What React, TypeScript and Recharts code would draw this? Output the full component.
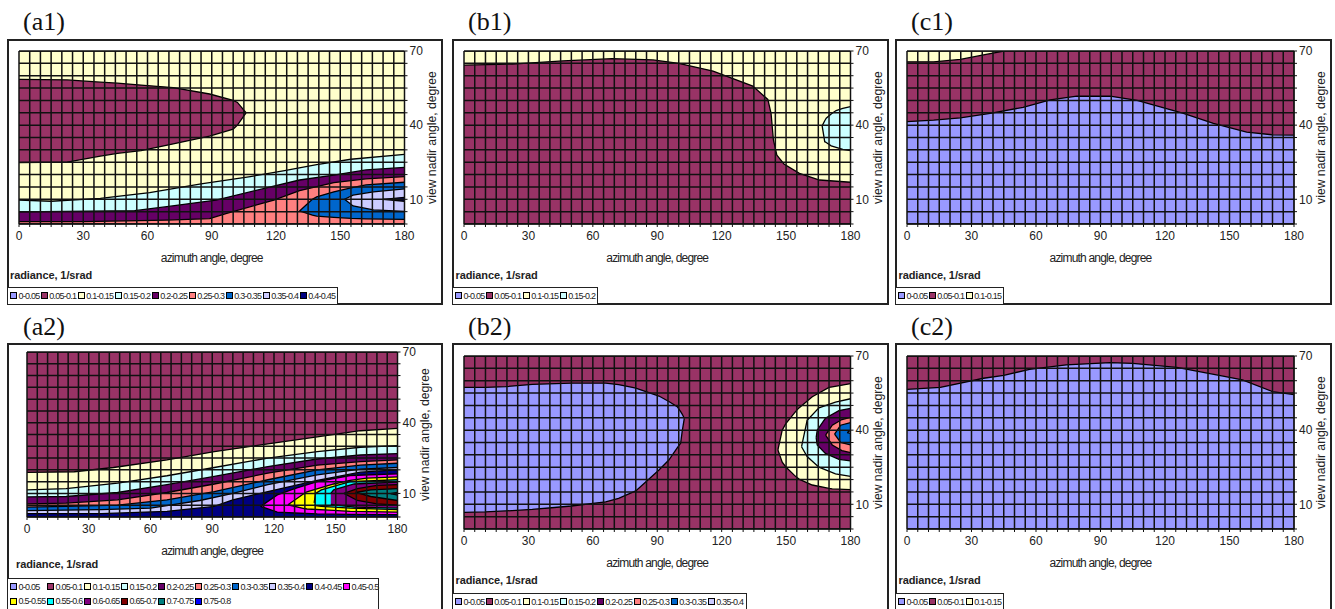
import React from 'react';
import { AreaChart, Area, XAxis, YAxis, CartesianGrid } from 'recharts';

type Row = number[];

const bandLabels = ['0-0.05','0.05-0.1','0.1-0.15','0.15-0.2','0.2-0.25','0.25-0.3','0.3-0.35','0.35-0.4','0.4-0.45','0.45-0.5','0.5-0.55','0.55-0.6','0.6-0.65','0.65-0.7','0.7-0.75','0.75-0.8'];
const bandColors = ['#9999FF','#993366','#FFFFCC','#CCFFFF','#660066','#FF8080','#0066CC','#CCCCFF','#000080','#FF00FF','#FFFF00','#00FFFF','#800080','#800000','#008080','#0000FF'];

const azimuthTicks = [0,5,10,15,20,25,30,35,40,45,50,55,60,65,70,75,80,85,90,95,100,105,110,115,120,125,130,135,140,145,150,155,160,165,170,175,180];
const nadirTicks = [0,5,10,15,20,25,30,35,40,45,50,55,60,65,70];
const azimuthLabels = [0,30,60,90,120,150,180];
const nadirLabels = [10,40,70];

const whole: Row[] = [[0,0,70],[180,0,70]];

// rows: [azimuth, lower nadir, upper nadir]
const a1Maroon: Row[] = [[0,24.8,58.5],[22.5,25,58.3],[38,27.5,57.4],[46,28.6,57],[57,29.7,56.2],[72,32.4,55.2],[89,35.6,52.6],[100,38.4,50],[102,40,49.2],[106,45,45]];
const a1Cyan: Row[] = [[0,0,9.7],[15,0,9.2],[38,0,10.4],[61,0,12.7],[85,0,16.2],[108,0,19.2],[124,0,21.6],[139,0,24],[155,0,26.2],[180,0,28.2]];
const a1Purple: Row[] = [[0,0,4.9],[54,0,5.4],[69,0,7],[92,0,9.7],[116,0,14.7],[131,0,17.8],[147,0,19.8],[162,0,21.9],[180,0,22.9]];
const a1Salmon: Row[] = [[0,0,1],[30,0,1],[69,0,1.6],[89,0,2.2],[97,0,4.3],[119,0,9.7],[131,0,13.5],[147,0,16.7],[162,0,18.3],[180,0,19.2]];
const a1Blue: Row[] = [[131,5.3,5.3],[137,3.6,10],[139,3.2,11],[147,2.7,13],[155,2.3,14.6],[162,2.1,15.8],[180,1.9,16.9]];
const a1Lav: Row[] = [[152,10,10],[156,7.3,11.7],[165.5,5.7,13],[180,5.1,14.2]];
const a1Navy: Row[] = [[170,10,10],[180,9.2,10.8]];

const a2Yellow: Row[] = [[0,0,18.9],[23,0,19.2],[42,0,21],[68,0,24.2],[91,0,27.7],[117,0,31],[141,0,34],[162,0,36.6],[180,0,37.6]];
const a2PaleCyan: Row[] = [[0,0,11.5],[19,0,12],[44,0,14.4],[68,0,17.5],[91,0,21],[117,0,25],[141,0,27.7],[162,0,29.6],[180,0,30.3]];
const a2Purple: Row[] = [[0,0,8.5],[19,0,8.7],[44,0,10.4],[68,0,13.7],[91,0,17.2],[117,0,21.4],[141,0,24.6],[162,0,26.3],[180,0,26.9]];
const a2Salmon: Row[] = [[0,0,5.6],[19,0,5.9],[44,0,7.3],[68,0,10.4],[91,0,14],[117,0,18.6],[141,0,22],[162,0,23.5],[180,0,24.2]];
const a2Blue: Row[] = [[0,0,4.2],[19,0,4.5],[44,0,5],[68,0,7.3],[91,0,10.8],[117,0,15.8],[141,0,20],[162,0,22],[180,0,22.8]];
const a2Lav: Row[] = [[0,0,2.7],[36,0,3.1],[60,0,3.8],[84,0,7],[100,0,10],[117,0,13.7],[141,0,17.9],[162,0,20.3],[180,0,21]];
const a2Navy: Row[] = [[0,0,1.4],[36,0,1.4],[68,0,2.4],[91,0,4.5],[100,0,7.3],[117,0,10.8],[141,0,15.5],[162,0,19],[180,0,20]];
const a2Magenta: Row[] = [[113.5,4.5,4.5],[121.6,2.1,9.4],[130,1.7,12],[141,1.3,15],[157,1.1,17.6],[180,1,18.3]];
const a2Gold: Row[] = [[126.8,5.2,5.2],[134.6,3.6,10],[136,3.4,10.7],[149,2.8,14],[157,2.4,15.5],[165,2.3,16.5],[180,2.1,17]];
const a2Aqua: Row[] = [[139.5,5,6],[140.2,4.8,10],[143,4.5,11.5],[157,3.8,15],[180,3.1,15.8]];
const a2Violet: Row[] = [[147.6,5.4,10],[149,5.2,11.5],[159,4.2,14],[180,3.8,14.8]];
const a2DarkRed: Row[] = [[154,10,10],[160.5,7,12],[170,5.6,13.4],[180,5,13.7]];
const a2Teal: Row[] = [[159.7,10.4,10.4],[167,8.7,11.5],[180,7,12]];
const a2Pure: Row[] = [[176.7,9.9,9.9],[180,9.3,10.4]];

const b1Maroon: Row[] = [[0,0,64.3],[22.5,0,64.7],[46,0,66],[69,0,66.9],[88,0,66.4],[100,0,65],[116,0,61.9],[134.5,0,55.8],[141.5,0,50.4],[143,0,44.8],[144.1,0,34],[145.7,0,27.9],[149,0,24.3],[156.2,0,20.5],[165.6,0,17.8],[180,0,16.9]];
const b1Cyan: Row[] = [[166.8,39.7,39.7],[168,33.3,41.8],[168.7,33,42.8],[171,31.6,44.5],[173.3,31,45.9],[176.4,30.2,46.8],[180,29.7,47.5]];

const b2Lav: Row[] = [[0,6.7,57.3],[10,6.9,57.3],[19.4,7.3,57.6],[31.8,7.9,58.5],[50,9.3,59],[66,11,59],[72,12.4,58.4],[78.4,14.8,57.3],[80,15.4,57],[90.8,23.9,53.8],[95.4,27.9,51.6],[99.3,32.8,49.5],[100.9,34.7,47.5],[101.6,39.4,46.5],[102.6,44.8,44.8]];
const b2Cream: Row[] = [[146.2,32,32],[148.2,27,40],[149.8,25.2,42.5],[154.4,21.3,47.5],[156,20.2,49],[162.2,17.8,53.5],[170,16.4,57.3],[171.5,16.2,57.5],[180,15.9,58.8]];
const b2Cyan: Row[] = [[157.2,33.3,33.3],[159.8,29.3,44],[165.3,25,49],[173,22.3,51.3],[180,21.3,52.7]];
const b2Purple: Row[] = [[164,37,37],[164.5,34,40],[168.3,30.6,44.8],[174.6,28.2,47.9],[180,27.6,48.8]];
const b2Salmon: Row[] = [[168.4,38,38],[171.5,34,42],[176,31.7,44.3],[180,30.9,45.2]];
const b2Blue: Row[] = [[172.6,38.4,38.4],[175.4,35,42],[180,34,43]];
const b2Lilac: Row[] = [[178.5,39,39],[180,38.7,40]];

const c1Cream: Row[] = [[0,65.6,70],[12.4,65.6,70],[24.8,66.6,70],[35.6,68.4,70],[45,70,70]];
const c1Lav: Row[] = [[0,0,41.4],[12.4,0,42],[24.8,0,42.9],[38.7,0,44.8],[54,0,47.2],[66.6,0,50.2],[79,0,51.7],[94.5,0,51.7],[107,0,50],[128.6,0,44.8],[142.5,0,40.7],[158,0,37.2],[170,0,36.1],[180,0,36]];

const c2Lav: Row[] = [[0,0,56.5],[15.5,0,57.3],[35.6,0,61],[45,0,62.2],[57,0,64.6],[74,0,66.4],[94.5,0,67.3],[105,0,67],[125.5,0,65.4],[147,0,61.9],[156,0,60.3],[170,0,55.6],[180,0,54.4]];

type Layer = { rows: Row[]; band: number };
type PanelDef = {
  title: string;
  frame: [number, number, number, number];
  plot: [number, number, number, number];
  titlePos: [number, number];
  unitPos: [number, number];
  legend: { box: [number, number, number, number]; bands: number; perRow: number; firstNarrow: boolean };
  layers: Layer[];
};

const panels: PanelDef[] = [
  { title: '(a1)', frame: [7, 39, 436, 266], plot: [19, 51, 385.5, 173], titlePos: [23, 7], unitPos: [10, 275],
    legend: { box: [7, 287, 331, 18], bands: 9, perRow: 9, firstNarrow: true },
    layers: [{ rows: whole, band: 2 }, { rows: a1Maroon, band: 1 }, { rows: a1Cyan, band: 3 }, { rows: a1Purple, band: 4 }, { rows: a1Salmon, band: 5 }, { rows: a1Blue, band: 6 }, { rows: a1Lav, band: 7 }, { rows: a1Navy, band: 8 }] },
  { title: '(b1)', frame: [452, 39, 437, 266], plot: [463.5, 51, 386.5, 173], titlePos: [468, 7], unitPos: [455.5, 275],
    legend: { box: [452, 287, 146, 18], bands: 4, perRow: 4, firstNarrow: true },
    layers: [{ rows: whole, band: 2 }, { rows: b1Maroon, band: 1 }, { rows: b1Cyan, band: 3 }] },
  { title: '(c1)', frame: [895, 39, 437, 266], plot: [907, 51, 387, 173], titlePos: [911, 7], unitPos: [898.5, 275],
    legend: { box: [895, 287, 109, 18], bands: 3, perRow: 3, firstNarrow: true },
    layers: [{ rows: whole, band: 1 }, { rows: c1Cream, band: 2 }, { rows: c1Lav, band: 0 }] },
  { title: '(a2)', frame: [7, 343, 436, 270], plot: [26.5, 352, 370.5, 165], titlePos: [23, 312], unitPos: [16, 564],
    legend: { box: [7, 578, 372, 35], bands: 16, perRow: 10, firstNarrow: false },
    layers: [{ rows: whole, band: 1 }, { rows: a2Yellow, band: 2 }, { rows: a2PaleCyan, band: 3 }, { rows: a2Purple, band: 4 }, { rows: a2Salmon, band: 5 }, { rows: a2Blue, band: 6 }, { rows: a2Lav, band: 7 }, { rows: a2Navy, band: 8 }, { rows: a2Magenta, band: 9 }, { rows: a2Gold, band: 10 }, { rows: a2Aqua, band: 11 }, { rows: a2Violet, band: 12 }, { rows: a2DarkRed, band: 13 }, { rows: a2Teal, band: 14 }, { rows: a2Pure, band: 15 }] },
  { title: '(b2)', frame: [452, 343, 437, 270], plot: [463.5, 356, 386.5, 173], titlePos: [468, 312], unitPos: [455.5, 580],
    legend: { box: [452, 593, 295, 20], bands: 8, perRow: 8, firstNarrow: true },
    layers: [{ rows: whole, band: 1 }, { rows: b2Lav, band: 0 }, { rows: b2Cream, band: 2 }, { rows: b2Cyan, band: 3 }, { rows: b2Purple, band: 4 }, { rows: b2Salmon, band: 5 }, { rows: b2Blue, band: 6 }, { rows: b2Lilac, band: 7 }] },
  { title: '(c2)', frame: [895, 343, 437, 270], plot: [907, 356, 387, 173], titlePos: [911, 312], unitPos: [898.5, 580],
    legend: { box: [895, 593, 109, 20], bands: 3, perRow: 3, firstNarrow: true },
    layers: [{ rows: whole, band: 1 }, { rows: c2Lav, band: 0 }] },
];

const sans = '"Liberation Sans", Arial, sans-serif';
const serif = '"Liberation Serif", "Times New Roman", serif';

function LegendBox({ def }: { def: PanelDef['legend'] }) {
  const [x, y, w, h] = def.box;
  const items = bandLabels.slice(0, def.bands);
  return (
    <div style={{ position: 'absolute', left: x, top: y, width: w, height: h, boxSizing: 'border-box', border: '1.5px solid #222', background: '#fff' }}>
      {items.map((label, i) => {
        const col = i % def.perRow;
        const row = Math.floor(i / def.perRow);
        const left = def.firstNarrow ? (i === 0 ? 2 : 32.7 + 37 * (i - 1)) : 2 + 37 * col;
        return (
          <div key={label} style={{ position: 'absolute', left, top: 2 + row * 14.7, height: 11, display: 'flex', alignItems: 'center', whiteSpace: 'nowrap' }}>
            <span style={{ width: 5, height: 5, border: '1px solid #000', background: bandColors[i], display: 'inline-block', marginRight: 1.5, flex: 'none' }} />
            <span style={{ font: `9px ${sans}`, letterSpacing: -0.75, color: '#222' }}>{label}</span>
          </div>
        );
      })}
    </div>
  );
}

function Panel({ def }: { def: PanelDef }) {
  const [fx, fy, fw, fh] = def.frame;
  const [px, py, pw, ph] = def.plot;
  const padL = 12, padT = 12, yW = 48, xH = 44;
  return (
    <>
      <div style={{ position: 'absolute', left: def.titlePos[0], top: def.titlePos[1], font: `26px ${serif}`, color: '#111', lineHeight: '30px' }}>{def.title}</div>
      <div style={{ position: 'absolute', left: fx, top: fy, width: fw, height: fh, boxSizing: 'border-box', border: '2px solid #222', background: '#fff' }} />
      <div style={{ position: 'absolute', left: px - padL, top: py - padT }}>
        <AreaChart width={pw + padL + yW} height={ph + padT + xH} margin={{ left: padL, top: padT, right: 0, bottom: 0 }}>
          <XAxis dataKey="az" type="number" domain={[0, 180]} ticks={azimuthTicks} interval={0} height={xH} tickSize={3} tickMargin={4}
            allowDataOverflow stroke="#111" tick={{ fontSize: 12, fontFamily: sans, fill: '#222' }}
            tickFormatter={(v: number) => (azimuthLabels.includes(v) ? String(v) : '')}
            label={{ value: 'azimuth angle, degree', position: 'insideBottom', offset: 6, style: { fontSize: 12, fontFamily: sans, letterSpacing: -0.8, fill: '#222' } }} />
          <YAxis orientation="right" type="number" domain={[0, 70]} ticks={nadirTicks} interval={0} width={yW} tickSize={3} tickMargin={2}
            allowDataOverflow stroke="#111" tick={{ fontSize: 12, fontFamily: sans, fill: '#222' }}
            tickFormatter={(v: number) => (nadirLabels.includes(v) ? String(v) : '')}
            label={{ value: 'view nadir angle, degree', angle: -90, position: 'insideRight', offset: 21, style: { fontSize: 12.2, fontFamily: sans, fill: '#222', textAnchor: 'middle' } }} />
          {def.layers.map((layer, i) => (
            <Area key={i} type="linear" data={layer.rows.map(([az, lo, hi]) => ({ az, span: [lo, hi] }))} dataKey="span"
              fill={bandColors[layer.band]} fillOpacity={1} stroke="#000" strokeWidth={1.3} dot={false} activeDot={false} isAnimationActive={false} />
          ))}
          <CartesianGrid stroke="#111" strokeWidth={1.5} zIndex={500} />
        </AreaChart>
      </div>
      <div style={{ position: 'absolute', left: def.unitPos[0], top: def.unitPos[1] - 7, font: `bold 11px ${sans}`, lineHeight: '14px', letterSpacing: -0.1, color: '#222' }}>radiance, 1/srad</div>
      <LegendBox def={def.legend} />
    </>
  );
}

export default function App() {
  return (
    <div style={{ position: 'absolute', left: 0, top: 0, width: 1335, height: 609, overflow: 'hidden', background: '#fff' }}>
      {panels.map((p) => <Panel key={p.title} def={p} />)}
    </div>
  );
}
